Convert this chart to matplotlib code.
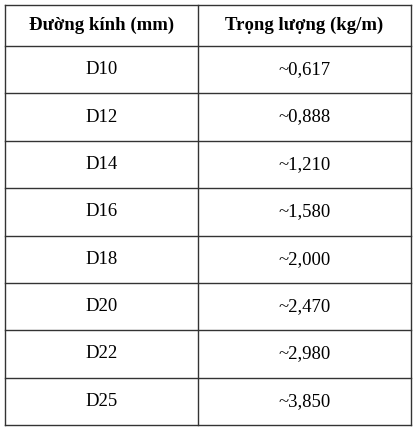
import matplotlib

matplotlib.use("Agg")
from matplotlib import pyplot as plt

headers = ["Đường kính (mm)", "Trọng lượng (kg/m)"]
diameters = ["D10", "D12", "D14", "D16", "D18", "D20", "D22", "D25"]
weights = ["~0,617", "~0,888", "~1,210", "~1,580", "~2,000", "~2,470", "~2,980", "~3,850"]

W, H = 416, 428
fig = plt.figure(figsize=(W / 100, H / 100), dpi=100)
ax = fig.add_axes([0, 0, 1, 1])
ax.set_xlim(0, W)
ax.set_ylim(H, 0)
ax.axis("off")

left, mid, right = 5, 198, 411
top, head_bottom, bottom = 5, 46, 425
row_h = (bottom - head_bottom) / len(diameters)
line = dict(color="#333333", linewidth=1)

ys = [top, head_bottom] + [head_bottom + row_h * (i + 1) for i in range(len(diameters))]
for y in ys:
    ax.plot([left, right], [y, y], **line)
for x in (left, mid, right):
    ax.plot([x, x], [top, bottom], **line)

font = dict(family="Liberation Serif", fontsize=13.5, ha="center", va="center")
ax.text((left + mid) / 2, (top + head_bottom) / 2, headers[0], weight="bold", **font)
ax.text((mid + right) / 2, (top + head_bottom) / 2, headers[1], weight="bold", **font)
for i, (d, w) in enumerate(zip(diameters, weights)):
    yc = head_bottom + row_h * (i + 0.5)
    ax.text((left + mid) / 2, yc, d, **font)
    ax.text((mid + right) / 2, yc, w, **font)

fig.savefig("out.png", dpi=100)
